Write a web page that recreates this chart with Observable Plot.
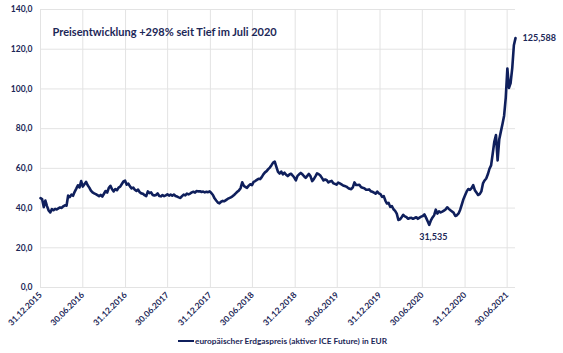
<!DOCTYPE html>
<html><head><meta charset="utf-8">
<script src="https://cdn.jsdelivr.net/npm/d3@7"></script>
<script src="https://cdn.jsdelivr.net/npm/@observablehq/plot@0.6"></script>
<style>
html,body{margin:0;padding:0;background:#fff;}
#wrap{position:relative;width:563px;height:353px;overflow:hidden;font-family:Lato,sans-serif;}
#legend{position:absolute;left:178px;top:336px;display:flex;align-items:center;font-size:8.3px;font-weight:bold;color:#1c2757;white-space:nowrap;}
#legend .sw{display:inline-block;width:16px;height:2.5px;background:#0f1f5c;margin-right:1px;}
</style></head><body><div id="wrap"><div id="chart"></div><div id="legend"><span class="sw"></span><span id="legtext"></span></div></div>
<script>
// weekly samples starting 31.12.2015
const startDate = "2015-12-31";
const v2016 = [45,44.5,40.5,43.8,41,38.8,37.8,39.5,38.9,39.6,39.3,39.8,40.3,40.1,40.9,41.4,41.2,46.3,45.5,46.8,46.2,48.2,49.8,51.5,50.4,53.6,50.8,52.0,53.2,51.5,50.3,48.8,47.9,47.4,47.0,46.5,46.0,46.6,45.8,47.2,48.6,47.8,50.2,51.2,49.5,48.4,49.6,49.0,50.3,50.8,52.1,53.4,53.8];
const v2017 = [51.8,52.3,50.9,49.9,50.3,49.2,48.6,49.3,48.0,47.4,47.2,46.5,46.0,48.4,47.5,47.9,46.6,46.3,46.6,47.4,46.1,45.9,46.5,46.0,46.4,46.9,46.3,46.8,46.2,46.8,46.1,45.8,45.4,45.1,46.0,46.8,46.4,47.3,46.9,47.3,47.9,48.2,47.8,48.6,48.4,48.5,48.1,48.3,47.9,48.2,48.0,48.4];
const v2018 = [47.6,46.6,44.9,43.8,42.8,42.4,43.2,43.6,43.4,44.0,44.6,45.0,45.4,45.9,46.6,47.4,48.2,48.9,50.0,53.0,51.2,50.6,50.2,51.3,52.0,51.6,53.2,53.6,54.2,54.7,54.6,55.6,57.0,58.0,58.6,59.6,60.4,61.6,62.9,63.4,60.8,58.2,57.4,58.4,57.0,57.8,56.8,56.1,56.9,57.3,56.4,55.4];
const v2019 = [54.0,56.2,57.0,57.7,57.0,56.0,55.2,56.2,57.2,56.0,53.6,54.6,56.0,57.5,57.1,56.4,55.2,53.9,54.4,54.0,52.9,53.4,53.7,52.5,52.2,51.8,52.8,52.4,51.9,51.4,51.1,50.8,50.2,49.7,49.5,50.4,52.9,51.6,51.6,51.7,50.6,50.2,50.0,49.3,49.2,49.4,48.5,48.2,47.8,47.3,48.3,47.4];
const v2020 = [47.0,45.6,46.0,43.8,42.3,42.6,40.6,41.0,39.4,38.6,37.2,34.0,34.3,35.4,36.6,35.8,35.4,34.6,35.0,35.1,34.6,35.0,35.4,34.6,35.2,35.7,36.0,36.8,35.2,33.4,31.535,33.8,35.3,36.4,39.2,37.2,38.4,37.8,38.2,38.7,39.3,40.4,39.6,38.9,38.3,37.6,36.0,36.4,37.3,39.2,41.8,44.5,46.5];
const v2021 = [48.4,49.6,49.2,50.1,51.6,49.0,47.8,46.6,47.0,48.4,52.4,53.9,54.9,57.0,59.8,61.5,67.5,73.5,76.8,64.0,74.5,78.5,82.3,86.5,95.5,110.3,100.5,103.0,110.5,122.0,125.588];
const xTickLabels = ["31.12.2015","30.06.2016","31.12.2016","30.06.2017","31.12.2017","30.06.2018","31.12.2018","30.06.2019","31.12.2019","30.06.2020","31.12.2020","30.06.2021"];
const yTicks = [0,20,40,60,80,100,120,140];
const titleText = "Preisentwicklung +298% seit Tief im Juli 2020";
const seriesName = "europäischer Erdgaspreis (aktiver ICE Future) in EUR";
const lastLabel = "125,588";
const lowLabel = "31,535";

const navy = "#0f1f5c";
const textCol = "#1c2757";
const parseD = d3.utcParse("%d.%m.%Y");
const xTicks = xTickLabels.map(parseD);
const start = d3.utcParse("%Y-%m-%d")(startDate);
const values = [].concat(v2016, v2017, v2018, v2019, v2020, v2021);
const data = values.map((v, i) => ({date: d3.utcDay.offset(start, 7 * i), value: v}));
const last = data[data.length - 1];
const low = data.reduce((a, b) => (b.value < a.value ? b : a));

const chart = Plot.plot({
  width: 563,
  height: 336,
  marginLeft: 40,
  marginRight: 48,
  marginTop: 9,
  marginBottom: 49,
  style: {fontFamily: "Lato, sans-serif", background: "#fff"},
  x: {type: "utc", domain: [start, last.date]},
  y: {domain: [0, 140]},
  marks: [
    Plot.gridY({ticks: yTicks, stroke: "#e3e3e3", strokeOpacity: 1}),
    Plot.gridX({ticks: xTicks, stroke: "#e3e3e3", strokeOpacity: 1}),
    Plot.axisY({ticks: yTicks, tickSize: 0, tickPadding: 8, tickFormat: d => d.toFixed(1).replace(".", ","), fontSize: 8.5, fontWeight: "bold", color: textCol, label: null}),
    Plot.axisX({ticks: xTicks, tickSize: 0, tickPadding: 6, tickRotate: -45, tickFormat: d3.utcFormat("%d.%m.%Y"), fontSize: 8.5, fontWeight: "bold", color: textCol, label: null}),
    Plot.line(data, {x: "date", y: "value", stroke: navy, strokeWidth: 2.6, strokeLinejoin: "round"}),
    Plot.text([titleText], {frameAnchor: "top-left", dx: 12, dy: 19, textAnchor: "start", fontSize: 11, fontWeight: "bold", fill: textCol}),
    Plot.text([last], {x: "date", y: "value", text: () => lastLabel, dx: 7, textAnchor: "start", fontSize: 9, fontWeight: "bold", fill: textCol}),
    Plot.text([low], {x: "date", y: "value", text: () => lowLabel, dx: 4, dy: 12, fontSize: 9, fontWeight: "bold", fill: textCol})
  ]
});
document.getElementById("chart").appendChild(chart);
document.getElementById("legtext").textContent = seriesName;
</script></body></html>
